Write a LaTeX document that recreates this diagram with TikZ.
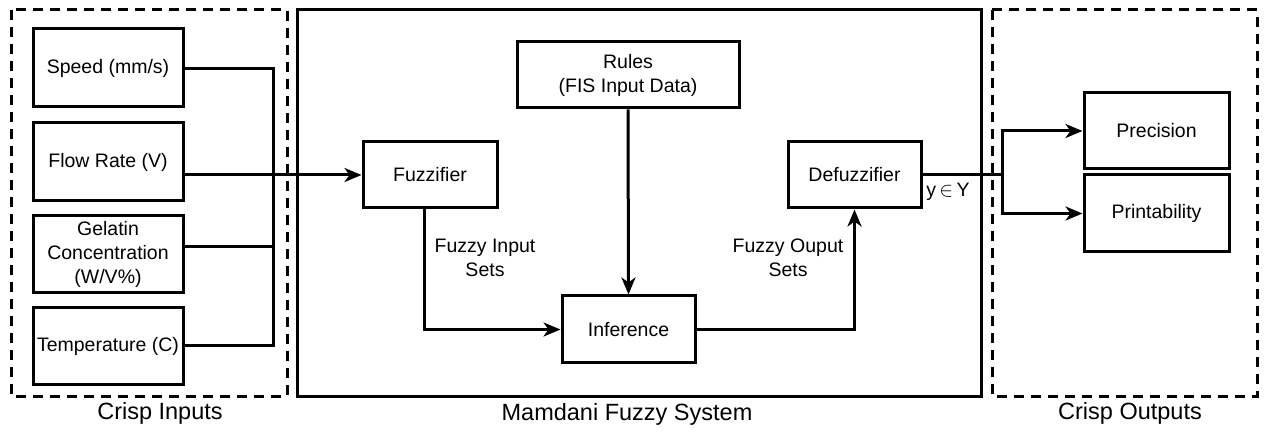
\documentclass[tikz,border=0pt]{standalone}
\usepackage{fontspec}
\setmainfont{Liberation Sans}
\usetikzlibrary{arrows.meta,calc}
\begin{document}
\begin{tikzpicture}[x=1pt,y=-1pt,
  box/.style={draw,line width=3pt,rectangle,inner sep=0pt,align=center,
    font=\fontsize{19.5}{24}\selectfont},
  group/.style={draw,line width=3pt,dashed,dash pattern=on 10pt off 7pt},
  conn/.style={line width=3pt},
  arr/.style={conn,-{Stealth[length=17pt,width=14pt,inset=5pt]}},
  lbl/.style={align=center,inner sep=0pt,font=\fontsize{19.5}{24}\selectfont},
  grouptitle/.style={inner sep=0pt,font=\fontsize{23.5}{28}\selectfont}]
\useasboundingbox (0,0) rectangle (1266,435);

% group frames
\draw[group] (11,10) rectangle (287,396);
\draw[line width=3pt] (297,10) rectangle (981,396);
\draw[group] (992,10) rectangle (1257,396);

\node[grouptitle] (cin) at (160,413) {Crisp Inputs};
\node[grouptitle] (cmf) at (627,414) {Mamdani Fuzzy System};
\node[grouptitle] (cout) at (1130,413) {Crisp Outputs};

% crisp inputs
\node[box,minimum width=150pt,minimum height=78pt] (speed) at (108,68) {Speed (mm/s)};
\node[box,minimum width=150pt,minimum height=78pt] (flow) at (108,162) {Flow Rate (V)};
\node[box,minimum width=150pt,minimum height=77pt] (gel) at (108,254.5) {Gelatin\\Concentration\\(W/V\%)};
\node[box,minimum width=150pt,minimum height=77pt] (temp) at (108,346) {Temperature (C)};

% fuzzy system blocks
\node[box,minimum width=134pt,minimum height=66pt] (fuzz) at (430,175) {Fuzzifier};
\node[box,minimum width=222pt,minimum height=66pt] (rules) at (628,75) {Rules\\(FIS Input Data)};
\node[box,minimum width=133pt,minimum height=67pt] (inf) at (628.5,329.5) {Inference};
\node[box,minimum width=133pt,minimum height=66pt] (defuzz) at (854.5,175) {Defuzzifier};

% crisp outputs
\node[box,minimum width=145pt,minimum height=76pt] (prec) at (1156.5,131) {Precision};
\node[box,minimum width=145pt,minimum height=77pt] (print) at (1156.5,213.5) {Printability};

% input bus
\coordinate (busS) at (273,69);
\coordinate (busT) at (273,346);
\draw[conn] (speed.east |- busS) -- (busS) -- (busT) -- (temp.east |- busT);
\draw[conn] (gel.east |- 0,247) -- (busS |- 0,247);
\draw[arr] (flow.east |- fuzz.west) -- (fuzz.west);

% internal flow
\draw[arr] ($(fuzz.south)+(-6,0)$) |- (inf.west);
\draw[arr] (rules.south) -- (inf.north);
\draw[arr] (inf.east) -| (defuzz.south);

\node[lbl] (lin) at (485,258) {Fuzzy Input\\Sets};
\node[lbl] (lout) at (788,258) {Fuzzy Ouput\\Sets};

% output split
\coordinate (split) at (1002,175);
\draw[conn] (defuzz.east) -- (split);
\draw[arr] (split) |- (prec.west);
\draw[arr] (split) |- (print.west);
\node[lbl] (yy) at (948,192) {y\,$\in$\,Y};
\end{tikzpicture}
\end{document}
